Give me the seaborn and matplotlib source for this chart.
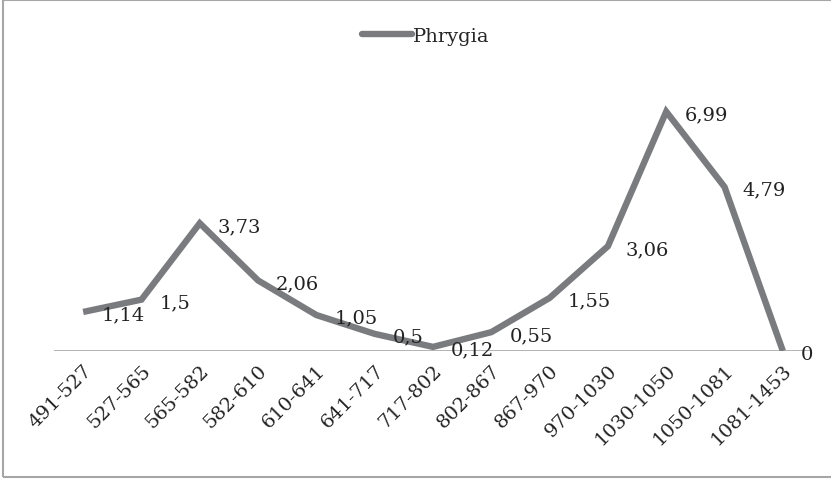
import matplotlib
matplotlib.use("Agg")
import matplotlib.pyplot as plt
import seaborn as sns
import pandas as pd
from matplotlib.patches import Rectangle

# Data
periods = ["491-527", "527-565", "565-582", "582-610", "610-641", "641-717",
           "717-802", "802-867", "867-970", "970-1030", "1030-1050",
           "1050-1081", "1081-1453"]
phrygia = [1.14, 1.5, 3.73, 2.06, 1.05, 0.5, 0.12, 0.55, 1.55, 3.06, 6.99, 4.79, 0]
labels = ["1,14", "1,5", "3,73", "2,06", "1,05", "0,5", "0,12", "0,55",
          "1,55", "3,06", "6,99", "4,79", "0"]

df = pd.DataFrame({"period": periods, "value": phrygia})

sns.set_style("white")
plt.rcParams["font.family"] = ["DejaVu Serif"]

FS = 14
W, H = 831, 481
fig = plt.figure(figsize=(W / 100, H / 100), dpi=100)
# axes: x from 54 to 812 px, y zero at 352 px, top (8) at ~78 px
ax = fig.add_axes([54 / W, 1 - 352 / H, (812 - 54) / W, (352 - 78) / H])

line_color = "#7a7b7e"
sns.lineplot(data=df, x="period", y="value", ax=ax, color=line_color,
             linewidth=4.6, label="Phrygia", sort=False,
             solid_joinstyle="miter", solid_capstyle="butt")

ax.set_xlim(-0.5, len(periods) - 0.5)
ax.set_ylim(0, 8)
ax.axhline(0, color="#a6a6a6", linewidth=1.2, zorder=0)

for i, (v, t) in enumerate(zip(phrygia, labels)):
    ax.annotate(t, (i, v), xytext=(13, -2), textcoords="offset points",
                ha="left", va="center", fontsize=FS, color="#222222")

ax.set_xticks(range(len(periods)))
ax.set_xticklabels(periods, rotation=45, ha="right", rotation_mode="anchor",
                   fontsize=FS, color="#222222")
ax.tick_params(axis="x", length=0, pad=7)
ax.set_yticks([])
ax.set_xlabel("")
ax.set_ylabel("")
for s in ax.spines.values():
    s.set_visible(False)

leg = ax.legend(loc="center", bbox_to_anchor=(0.49, 1.15), frameon=False,
                fontsize=FS, handlelength=2.6, handletextpad=0.0)
for h in leg.get_lines():
    h.set_solid_capstyle("round")
    h.set_linewidth(4.6)

# outer chart frame
fig.patches.append(Rectangle((3 / W, 1 - 478 / H), 1.0, (478 - 1) / H,
                             transform=fig.transFigure, fill=False,
                             edgecolor="#a6a6a6", linewidth=1.5))

fig.savefig("out.png", dpi=100)
